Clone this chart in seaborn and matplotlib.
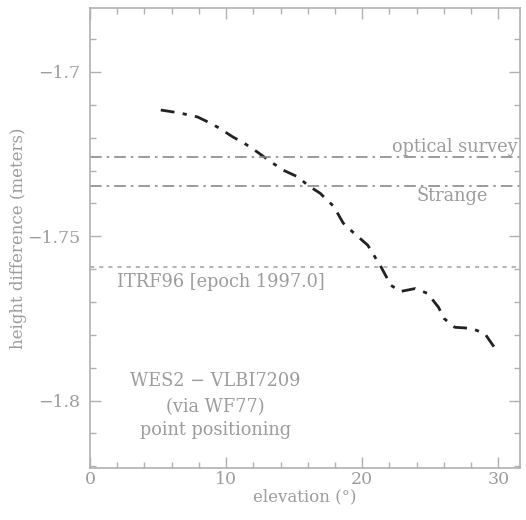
import matplotlib
matplotlib.use("Agg")
import matplotlib.pyplot as plt
import pandas as pd
import seaborn as sns
from matplotlib.ticker import MultipleLocator, FixedLocator


# height difference vs elevation cut-off
elevation = [5.2, 6.6, 7.9, 8.8, 9.5, 10.5, 11.3, 12.3, 13.3, 14.2, 15.3, 16.0,
             16.9, 17.9, 18.6, 19.4, 20.4, 21.4, 22.1, 22.8, 23.9, 24.8, 25.6,
             26.0, 26.8, 28.0, 29.0, 29.6, 30.0]
height = [-1.7116, -1.7125, -1.7137, -1.7155, -1.7171, -1.7198, -1.7216, -1.7244,
          -1.7274, -1.7299, -1.7320, -1.7345, -1.7369, -1.7409, -1.7460, -1.7491,
          -1.7527, -1.7595, -1.7649, -1.7668, -1.7659, -1.7674, -1.7716, -1.7750,
          -1.7777, -1.7780, -1.7796, -1.7832, -1.7857]

# reference values
ref_names = ["optical survey", "Strange", "ITRF96 [epoch 1997.0]"]
ref_values = [-1.7259, -1.7348, -1.7595]

yticks = [-1.8, -1.75, -1.7]
ytick_labels = ["\u22121.8", "\u22121.75", "\u22121.7"]
xticks = [0, 10, 20, 30]

df = pd.DataFrame({"elevation": elevation, "height": height})

sns.set_style("ticks")
plt.rcParams["font.family"] = ["DejaVu Serif"]

grey = "#9c9c9c"
fig = plt.figure(figsize=(5.26, 5.20), dpi=100)
ax = fig.add_axes([0.171, 0.1, 0.818, 0.885])

sns.lineplot(data=df, x="elevation", y="height", ax=ax, color="#222222",
             linewidth=2.0, dashes=False)
ax.lines[0].set_dashes([5, 3, 1.5, 3])

ax.axhline(ref_values[0], color="#8a8a8a", lw=1.2, dashes=[7, 3, 1.5, 3])
ax.axhline(ref_values[1], color="#8a8a8a", lw=1.2, dashes=[7, 3, 1.5, 3])
ax.axhline(ref_values[2], color="#a8a8a8", lw=1.2, dashes=[2.5, 3])

txt = dict(color=grey, fontsize=12.8)
ax.text(22.2, -1.7228, ref_names[0], ha="left", va="center", clip_on=True, **txt)
ax.text(24.0, -1.7378, ref_names[1], ha="left", va="center", **txt)
ax.text(2.0, -1.7640, ref_names[2], ha="left", va="center", **txt)
ax.text(9.2, -1.7940, "WES2 \u2212 VLBI7209", ha="center", va="center", **txt)
ax.text(9.2, -1.8020, "(via WF77)", ha="center", va="center", **txt)
ax.text(9.2, -1.8090, "point positioning", ha="center", va="center", **txt)

ax.set_xlim(0, 31.6)
ax.set_ylim(-1.8205, -1.6805)
ax.xaxis.set_major_locator(FixedLocator(xticks))
ax.xaxis.set_minor_locator(MultipleLocator(2))
ax.yaxis.set_major_locator(FixedLocator(yticks))
ax.set_yticklabels(ytick_labels)
ax.yaxis.set_minor_locator(MultipleLocator(0.01))

ax.tick_params(which="both", direction="in", top=True, right=True,
               color="#b0b0b0", labelcolor=grey, labelsize=12.5)
ax.tick_params(axis="x", pad=2.5)
ax.tick_params(axis="y", pad=7)
ax.tick_params(which="major", length=8, width=1)
ax.tick_params(which="minor", length=4, width=1)
for s in ax.spines.values():
    s.set_color("#b0b0b0")
    s.set_linewidth(1.2)

ax.set_xlabel("elevation (\u00b0)", color=grey, fontsize=12, labelpad=0)
ax.set_ylabel("height difference (meters)", color=grey, fontsize=12, labelpad=0)

plt.savefig("out.png", dpi=100)
plt.close()
